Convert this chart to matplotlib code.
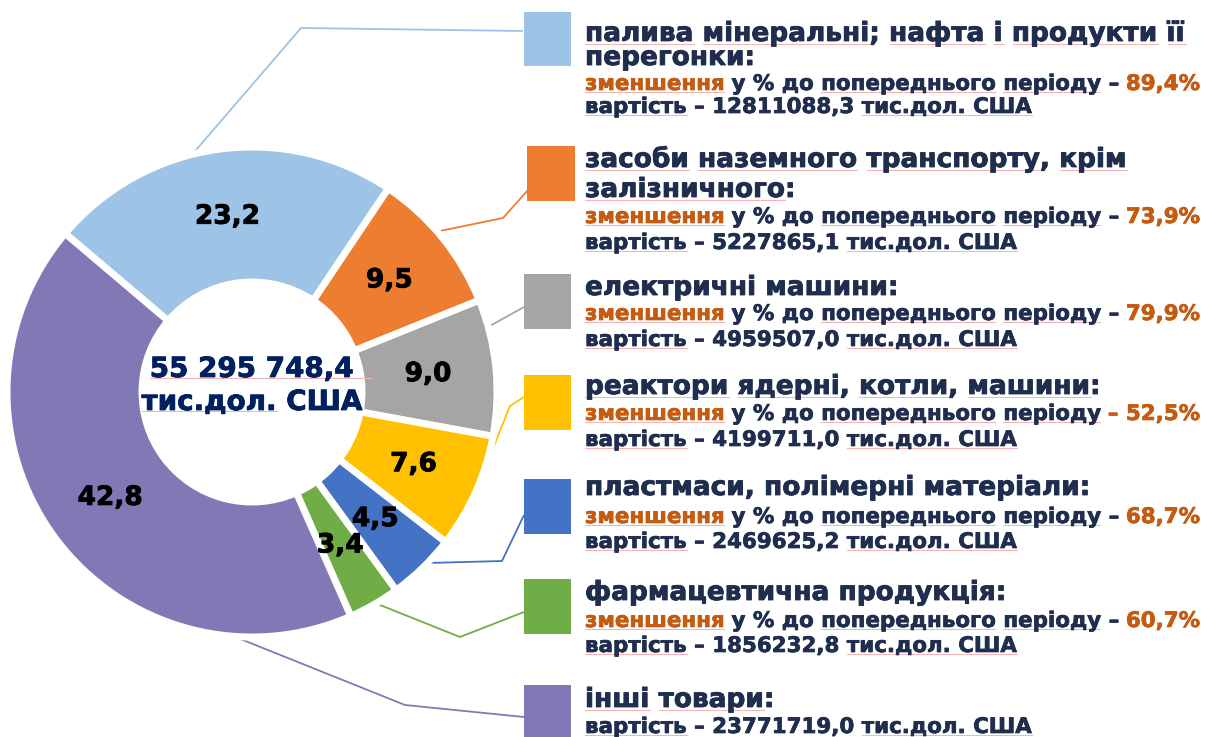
import matplotlib
matplotlib.use("Agg")
import matplotlib.pyplot as plt
import matplotlib.patheffects as pe

# ---------------- data ----------------
categories = [
    "палива мінеральні; нафта і продукти її\nперегонки:",
    "засоби наземного транспорту, крім\nзалізничного:",
    "електричні машини:",
    "реактори ядерні, котли, машини:",
    "пластмаси, полімерні матеріали:",
    "фармацевтична продукція:",
    "інші товари:",
]
shares = [23.2, 9.5, 9.0, 7.6, 4.5, 3.4, 42.8]
values = [12811088.3, 5227865.1, 4959507.0, 4199711.0, 2469625.2, 1856232.8, 23771719.0]
decrease = [89.4, 73.9, 79.9, 52.5, 68.7, 60.7, None]
colors = ["#9DC3E6", "#ED7D31", "#A5A5A5", "#FFC000", "#4472C4", "#70AD47", "#8079B5"]
unit = "тис.дол. США"
change_word = "зменшення"
change_text = " у % до попереднього періоду "
value_text = "вартість – "

# ---------------- layout / style ----------------
W, H = 1214, 737
CX, CY = 252, 392
R_OUT, WIDTH = 245, 135
NAVY = "#1F2D4E"
CENTER_NAVY = "#002060"
ORANGE = "#C55A11"
UL_COLOR = "#F5B3B3"
FAM = "DejaVu Sans"
TITLE_FS = 19
SMALL_FS = 15.4

def Y(y):
    return H - y

fig = plt.figure(figsize=(W / 100, H / 100), dpi=100)
ax = fig.add_axes([0, 0, 1, 1])

def fmt_pct(p):
    return f"{p:.1f}".replace(".", ",")

wedges, texts, autotexts = ax.pie(
    shares, colors=colors, startangle=139.7, counterclock=False,
    radius=R_OUT, center=(CX, Y(CY)),
    wedgeprops=dict(width=WIDTH, edgecolor="white", linewidth=5),
    autopct=fmt_pct, pctdistance=177 / R_OUT,
    textprops=dict(fontsize=19, fontweight="bold", color="black", family=FAM),
)
for w in wedges:
    w.set_zorder(3)
for t in autotexts:
    t.set_zorder(5)
    t.set_path_effects([pe.withStroke(linewidth=0.6, foreground="black")])

ax.set_xlim(0, W)
ax.set_ylim(0, H)
ax.set_aspect("equal")
ax.axis("off")

renderer = fig.canvas.get_renderer()

def text_width(s, **kw):
    if not s:
        return 0.0
    t = ax.text(0, 0, s, **kw)
    w = t.get_window_extent(renderer).width
    t.remove()
    return w

def char_x(x0, full, i, **kw):
    if i == 0:
        return x0
    return x0 + text_width(full[:i + 1], **kw) - text_width(full[i], **kw)

def draw_rich(x0, yb, full, color_spans, ul_spans=(), ul_dy=2, ul_extra=0,
              stroke=0.6, **kw):
    for a, b, c in color_spans:
        s = full[a:b]
        st = s.lstrip()
        a2 = a + len(s) - len(st)
        if st.strip():
            t = ax.text(char_x(x0, full, a2, **kw), Y(yb), st, color=c, ha="left",
                        va="baseline", zorder=6, **kw)
            if stroke:
                t.set_path_effects([pe.withStroke(linewidth=stroke, foreground=c)])
    for a, b in ul_spans:
        xa = char_x(x0, full, a, **kw)
        xb = x0 + text_width(full[:b], **kw) + ul_extra
        ax.plot([xa, xb], [Y(yb + ul_dy)] * 2, color=UL_COLOR, lw=0.75, zorder=5)

def word_spans(full, words):
    spans = []
    for wd in words:
        i = full.find(wd)
        if i >= 0:
            spans.append((i, i + len(wd)))
    return spans

def all_word_spans(line):
    spans, pos = [], 0
    for wd in line.split(" "):
        core = wd.rstrip(":;,")
        if core:
            spans.append((pos, pos + len(core)))
        pos += len(wd) + 1
    return spans

# center total
total = sum(values)
total_str = f"{total:,.1f}".replace(",", " ").replace(".", ",")
ckw = dict(fontsize=20, fontweight="bold", family=FAM)
for txt, yb, ul, extra in [(total_str, 377, [(0, len(total_str))], 18),
                           (unit, 410, word_spans(unit, ["тис.дол."]), 0)]:
    x0 = CX - text_width(txt, **ckw) / 2
    draw_rich(x0, yb, txt, [(0, len(txt), CENTER_NAVY)], ul, ul_dy=1,
              ul_extra=extra, **ckw)

# leader lines (image px coords)
leaders = [
    [(190, 157), (301, 28), (523, 31)],
    [(435, 232), (503, 218), (528, 190)],
    [(488, 327), (524, 307)],
    [(473, 498), (510, 406), (524, 397)],
    [(427, 563), (502, 561), (524, 515)],
    [(375, 603), (460, 637), (524, 612)],
    [(223, 632), (405, 705), (524, 717)],
]
for pts, c in zip(leaders, colors):
    ax.plot([p[0] for p in pts], [Y(p[1]) for p in pts], color=c, lw=1.3,
            zorder=2, solid_capstyle="butt")

# legend squares
squares = [(524, 12, 571, 66), (527, 146, 575, 201), (524, 274, 571, 329),
           (524, 375, 571, 430), (524, 479, 571, 534), (524, 579, 571, 634),
           (524, 685, 571, 740)]
for (x0, y0, x1, y1), c in zip(squares, colors):
    ax.add_patch(plt.Rectangle((x0, Y(y1)), x1 - x0, y1 - y0, facecolor=c,
                               edgecolor="none", zorder=4))

# text rows: title baselines, change baseline, value baseline
title_base = [[41, 65], [167, 197], [295], [394], [495], [600], [707]]
title_ul = [[True, False], [True, True], [False], [True], [False], [False], [True]]
change_base = [90, 223, 320, 420, 523, 627, None]
value_base = [113, 249, 346, 446, 548, 652, 733]
dash_orange = [False, False, False, True, False, False, False]
TX = 585

tkw = dict(fontsize=TITLE_FS, fontweight="bold", family=FAM)
skw = dict(fontsize=SMALL_FS, fontweight="bold", family=FAM)

for i, cat in enumerate(categories):
    for line, yb, ul in zip(cat.split("\n"), title_base[i], title_ul[i]):
        draw_rich(TX, yb, line, [(0, len(line), NAVY)],
                  all_word_spans(line) if ul else [], ul_dy=3, **tkw)
    if decrease[i] is not None:
        pct = fmt_pct(decrease[i]) + "%"
        full = change_word + change_text + "– " + pct
        a = len(change_word)
        b = len(change_word + change_text) if dash_orange[i] else len(full) - len(pct)
        spans = [(0, a, ORANGE), (a, b, NAVY), (b, len(full), ORANGE)]
        draw_rich(TX, change_base[i], full, spans,
                  word_spans(full, [change_word, "попереднього", "періоду"]),
                  stroke=0.5, **skw)
    vstr = value_text + f"{values[i]:.1f}".replace(".", ",") + " " + unit
    draw_rich(TX, value_base[i], vstr, [(0, len(vstr), NAVY)],
              word_spans(vstr, ["вартість", unit]), stroke=0.5, **skw)

fig.savefig("out.png", dpi=100, facecolor="white")
